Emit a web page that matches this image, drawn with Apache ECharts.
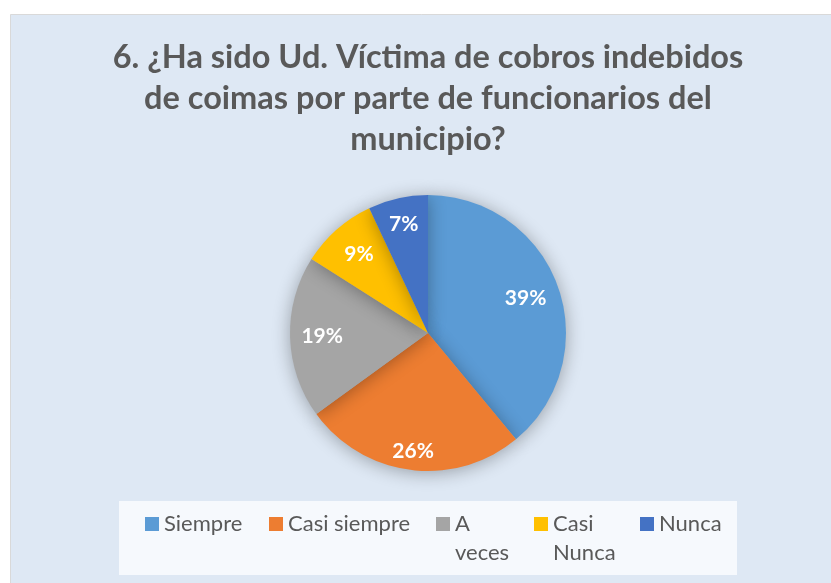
<!DOCTYPE html>
<html>
<head>
<meta charset="utf-8">
<script src="https://cdn.jsdelivr.net/npm/echarts@6/dist/echarts.min.js"></script>
<style>
  html, body { margin: 0; padding: 0; background: #fff; }
  #chart { width: 831px; height: 583px; }
</style>
</head>
<body>
<div id="chart"></div>
<script>
const categories = ['Siempre', 'Casi siempre', 'A veces', 'Casi Nunca', 'Nunca'];
const percentages = [39, 26, 19, 9, 7];
const sliceColors = ['#5b9bd5', '#ed7d31', '#a5a5a5', '#ffc000', '#4472c4'];
const legendLabels = ['Siempre', 'Casi siempre', 'A\nveces', 'Casi\nNunca', 'Nunca'];

// layout: legend icon left edges, label distance factors (relative to mid-radius)
const legendLeft = [145, 269, 436, 534, 640];
const labelPush = [1.44, 1.65, 1.47, 1.45, 1.55];
const center = [428, 333];

const chart = echarts.init(document.getElementById('chart'));

const legendText = {
  fontFamily: 'Lato',
  fontSize: 22,
  color: '#595959',
  lineHeight: 29
};

// wrapped entries get an empty first line so the first text line sits beside the icon
const legends = categories.map((name, i) => {
  const wrapped = legendLabels[i].indexOf('\n') >= 0;
  return {
    data: [name],
    left: legendLeft[i],
    top: wrapped ? 480.5 : 509.5,
    padding: 0,
    itemWidth: 14,
    itemHeight: 14,
    icon: 'rect',
    selectedMode: false,
    formatter: () => (wrapped ? '\n' : '') + legendLabels[i],
    textStyle: legendText
  };
});

const option = {
  backgroundColor: '#ffffff',
  animation: false,
  title: {
    text: '6. ¿Ha sido Ud. Víctima de cobros indebidos\nde coimas por parte de funcionarios del\nmunicipio?',
    left: 428,
    top: 37,
    padding: 0,
    textAlign: 'center',
    textStyle: {
      fontFamily: 'Lato',
      fontWeight: 'bold',
      fontSize: 32.5,
      lineHeight: 41,
      color: '#595959'
    }
  },
  graphic: [
    {
      type: 'rect',
      z: -10,
      shape: { x: 10.5, y: 14.5, width: 840, height: 600 },
      style: { fill: '#dee8f4', stroke: '#d9d9d9', lineWidth: 1 }
    },
    {
      type: 'rect',
      z: -9,
      shape: { x: 119, y: 501, width: 618, height: 74 },
      style: { fill: '#f6f9fd' }
    }
  ],
  legend: legends,
  color: sliceColors,
  series: [
    {
      type: 'pie',
      center,
      radius: 138,
      startAngle: 90,
      clockwise: true,
      itemStyle: {
        borderWidth: 0,
        shadowBlur: 18,
        shadowOffsetY: 2,
        shadowColor: 'rgba(0, 0, 0, 0.32)'
      },
      emphasis: { disabled: true },
      label: {
        show: true,
        position: 'inside',
        formatter: '{c}%',
        fontFamily: 'Lato',
        fontWeight: 'bold',
        fontSize: 21,
        color: '#ffffff'
      },
      labelLine: { show: false },
      labelLayout(params) {
        const r = params.labelRect;
        const k = labelPush[params.dataIndex];
        const mx = r.x + r.width / 2;
        const my = r.y + r.height / 2;
        return {
          x: center[0] + (mx - center[0]) * k,
          y: center[1] + (my - center[1]) * k,
          align: 'center',
          verticalAlign: 'middle'
        };
      },
      data: categories.map((name, i) => ({ name, value: percentages[i] }))
    }
  ]
};

chart.setOption(option);
</script>
</body>
</html>
